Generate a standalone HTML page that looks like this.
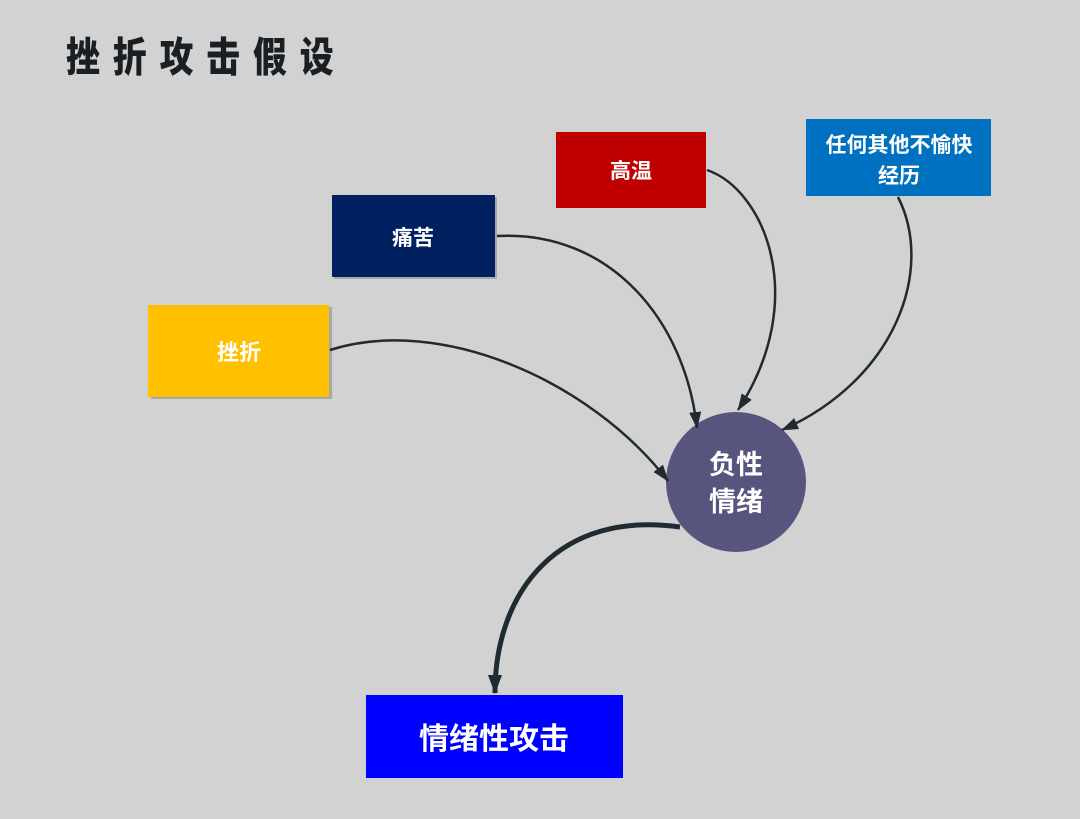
<!DOCTYPE html>
<html><head><meta charset="utf-8"><style>
html,body{margin:0;padding:0;background:#d2d2d2;}
svg{display:block;}
text{font-family:"Liberation Sans","Noto Sans CJK SC",sans-serif;font-weight:bold;fill:#fff;text-anchor:middle;}
</style></head><body>
<svg width="1080" height="819" viewBox="0 0 1080 819" xmlns="http://www.w3.org/2000/svg">
<defs>
<marker id="a" markerWidth="18" markerHeight="14" refX="16" refY="7" orient="auto" markerUnits="userSpaceOnUse" viewBox="0 0 18 14"><path d="M0,1 L17,7 L0,13 Z" fill="#1f2b30"/></marker>
<marker id="b" markerWidth="20" markerHeight="16" refX="18" refY="8" orient="auto" markerUnits="userSpaceOnUse" viewBox="0 0 20 16"><path d="M0,1 L19,8 L0,15 Z" fill="#1f2b30"/></marker>
</defs>
<text x="66" y="70" style="fill:#1a1f24;text-anchor:start;font-family:'Noto Sans CJK SC',sans-serif;font-size:40px;font-weight:900;letter-spacing:15px" transform="translate(66 0) scale(0.85 1.02) translate(-66 0)">挫折攻击假设</text>

<rect x="151" y="307" width="181" height="92" fill="#a8a8a8"/>
<rect x="148" y="305" width="181" height="92" fill="#FFC000"/>
<text x="239" y="360" font-size="22">挫折</text>

<rect x="334" y="197" width="163" height="82" fill="#a8a8a8"/>
<rect x="332" y="195" width="163" height="82" fill="#002060"/>
<text x="413" y="245" font-size="21">痛苦</text>

<rect x="556" y="132" width="150" height="76" fill="#C00000"/>
<text x="631" y="178" font-size="21">高温</text>

<rect x="806" y="119" width="185" height="77" fill="#0070C0"/>
<text x="899" y="152" font-size="21">任何其他不愉快</text>
<text x="899" y="183" font-size="21">经历</text>

<circle cx="736" cy="482" r="70" fill="#57547e"/>
<text x="736" y="474" font-size="27">负性</text>
<text x="736" y="511" font-size="27">情绪</text>

<rect x="366" y="695" width="257" height="83" fill="#0000FF"/>
<text x="494" y="749" font-size="30">情绪性攻击</text>

<g fill="none" stroke="#1f2b30" stroke-width="2.5">
<path d="M330 350 C 440 315, 590 380, 668 481" marker-end="url(#a)"/>
<path d="M497 236 C 610 230, 685 320, 697 428" marker-end="url(#a)"/>
<path d="M707 170 C 765 190, 810 300, 738 410" marker-end="url(#a)"/>
<path d="M898 197 C 935 270, 895 380, 782 430" marker-end="url(#a)"/>
<path d="M680 527 C 560 510, 495 590, 495 693" stroke-width="5" marker-end="url(#b)"/>
</g>
</svg>
</body></html>
